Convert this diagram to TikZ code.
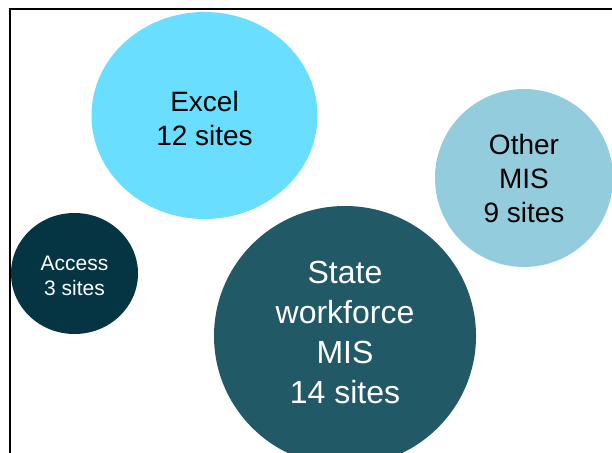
\documentclass[tikz,border=0pt]{standalone}
\usepackage{fontspec}
\setmainfont{Liberation Sans}
\usetikzlibrary{shapes.geometric}
\definecolor{excelc}{HTML}{69DEFF}
\definecolor{accessc}{HTML}{053443}
\definecolor{otherc}{HTML}{93CDDD}
\definecolor{statec}{HTML}{215967}
\begin{document}
\begin{tikzpicture}[x=1bp,y=-1bp,
  bubble/.style={ellipse, inner sep=0pt},
  label text/.style={inner sep=0pt, align=center},
  frame/.style={draw=black, line width=2bp}]
\useasboundingbox (0,0) rectangle (612,453);
\begin{scope}
\clip (0,0) rectangle (612,453);
\draw[frame] (9.5,9.5) rectangle (650,500);
\node[bubble, fill=excelc, minimum width=226bp, minimum height=207bp] (excel) at (204.5,115.5) {};
\node[bubble, fill=accessc, minimum width=127bp, minimum height=121bp] (access) at (74.5,273.5) {};
\node[bubble, fill=otherc, minimum width=178bp, minimum height=178bp] (other) at (524,178) {};
\node[bubble, fill=statec, minimum width=262bp, minimum height=260bp] (state) at (345,336) {};
\node[label text, text=black, font=\fontsize{28bp}{34.5bp}\selectfont]
  (excelt) at ([yshift=-3bp]excel.center) {Excel\\12 sites};
\node[label text, text=white, font=\fontsize{21bp}{25bp}\selectfont]
  (accesst) at ([yshift=-2bp]access.center) {Access\\3 sites};
\node[label text, text=black, font=\fontsize{28bp}{34bp}\selectfont]
  (othert) at (other.center) {Other\\MIS\\9 sites};
\node[label text, text=white, font=\fontsize{32bp}{40bp}\selectfont]
  (statet) at ([yshift=4bp]state.center) {State\\workforce\\MIS\\14 sites};
\end{scope}
\end{tikzpicture}
\end{document}
